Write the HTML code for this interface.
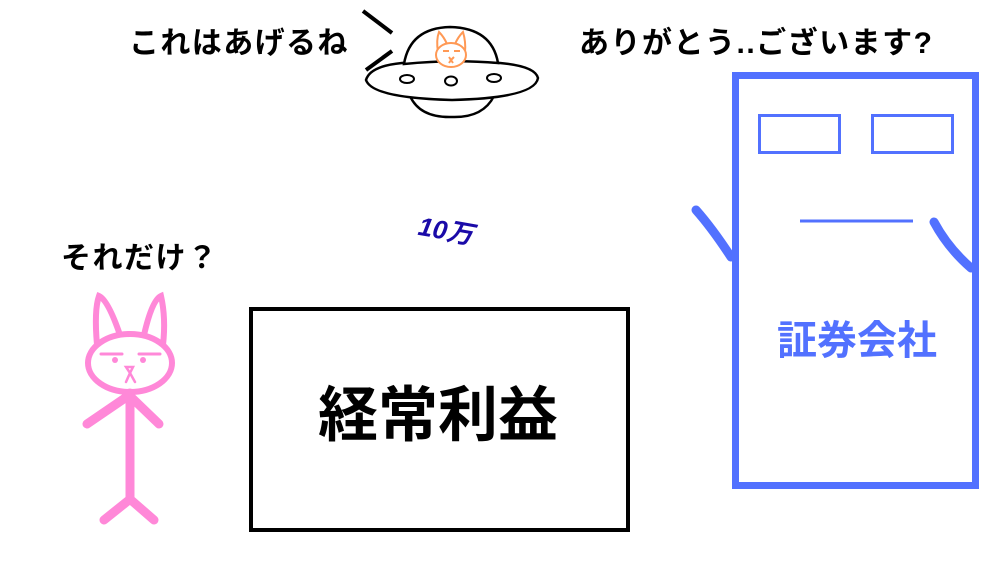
<!DOCTYPE html>
<html><head><meta charset="utf-8"><style>
html,body{margin:0;padding:0;background:#fff;}
body{width:1000px;height:562px;position:relative;overflow:hidden;font-family:"Liberation Sans","Noto Sans CJK JP",sans-serif;}
.t{position:absolute;font-weight:bold;white-space:nowrap;line-height:1;}
</style></head><body>
<svg width="1000" height="562" style="position:absolute;left:0;top:0">
<line x1="363" y1="11" x2="392" y2="33" stroke="#000" stroke-width="4"/>
<line x1="392" y1="51" x2="366" y2="70" stroke="#000" stroke-width="4"/>
<path d="M410 96 Q420 118 452 117 Q483 118 494 96" fill="#fff" stroke="#000" stroke-width="2.5"/>
<path d="M366 80 Q370 66 402 63 Q452 58 500 63 Q535 66 538 78 Q535 98 452 100 Q372 98 366 80 Z" fill="#fff" stroke="#000" stroke-width="2.5"/>
<path d="M404 64 Q410 28 450 27 Q492 28 498 63 Q452 59 404 64 Z" fill="#fff" stroke="#000" stroke-width="2.5"/>
<ellipse cx="407" cy="79" rx="7" ry="4" fill="none" stroke="#000" stroke-width="2"/>
<ellipse cx="451" cy="81" rx="6" ry="4.5" fill="none" stroke="#000" stroke-width="2"/>
<ellipse cx="494" cy="78" rx="7" ry="4" fill="none" stroke="#000" stroke-width="2"/>
<g stroke="#ff9955" stroke-width="2" fill="none">
<path d="M438 52 Q436 40 439 32 Q444 37 447 44 M455 44 Q458 37 463 32 Q466 42 465 52"/>
<ellipse cx="451" cy="55" rx="15" ry="12" fill="#fff"/>
<line x1="443" y1="51" x2="449" y2="51"/><line x1="454" y1="51" x2="460" y2="51"/>
<path d="M449 57 L451 60 L454 57 M451 60 L449 63 M451 60 L453 63"/>
</g>
<g stroke="#ff88d8" stroke-linecap="round" fill="none">
<path d="M97 345 Q94 310 99 296 Q108 300 120 335" stroke-width="6"/>
<path d="M144 335 Q152 300 161 296 Q166 318 163 345" stroke-width="6"/>
<ellipse cx="130" cy="363" rx="42" ry="29" fill="#fff" stroke-width="6"/>
<line x1="130" y1="393" x2="130" y2="500" stroke-width="9"/>
<line x1="128" y1="396" x2="87" y2="424" stroke-width="9"/>
<line x1="132" y1="398" x2="159" y2="424" stroke-width="9"/>
<line x1="129" y1="500" x2="104" y2="520" stroke-width="9"/>
<line x1="131" y1="500" x2="154" y2="520" stroke-width="9"/>
<line x1="101" y1="354" x2="122" y2="354" stroke-width="3"/>
<line x1="139" y1="354" x2="160" y2="354" stroke-width="3"/>
<path d="M126 367 L133 367 L130 373 Z M130 373 L126 382 M130 373 L135 382" stroke-width="2.5"/>
</g>
<circle cx="115" cy="360" r="3" fill="#ff88d8"/><circle cx="143" cy="360" r="3" fill="#ff88d8"/>
<rect x="251" y="309" width="377" height="221" fill="none" stroke="#000" stroke-width="4"/>
<g stroke="#5271ff" fill="none">
<rect x="735.5" y="75.5" width="240" height="410" stroke-width="7"/>
<rect x="759.5" y="115.5" width="80" height="37" stroke-width="3"/>
<rect x="872.5" y="115.5" width="80" height="37" stroke-width="3"/>
<line x1="800" y1="221" x2="913" y2="221" stroke-width="3"/>
<path d="M696 210 Q712 228 731 257" stroke-width="9" stroke-linecap="round"/>
<path d="M934 222 Q948 248 971 268" stroke-width="9" stroke-linecap="round"/>
</g>
</svg>
<div class="t" style="left:129px;top:29px;font-size:30px;letter-spacing:1.4px;">これはあげるね</div>
<div class="t" style="left:579px;top:29px;font-size:30px;letter-spacing:1.5px;">ありがとう..ございます?</div>
<div class="t" style="left:61px;top:244px;font-size:30px;letter-spacing:1.5px;">それだけ？</div>
<div class="t" style="left:421px;top:213px;font-size:26px;color:#1a0aa8;font-style:italic;transform:rotate(10deg);transform-origin:left top;">10万</div>
<div class="t" style="left:318px;top:386px;font-size:60px;">経常利益</div>
<div class="t" style="left:777px;top:321px;font-size:40px;color:#5271ff;">証券会社</div>
</body></html>
